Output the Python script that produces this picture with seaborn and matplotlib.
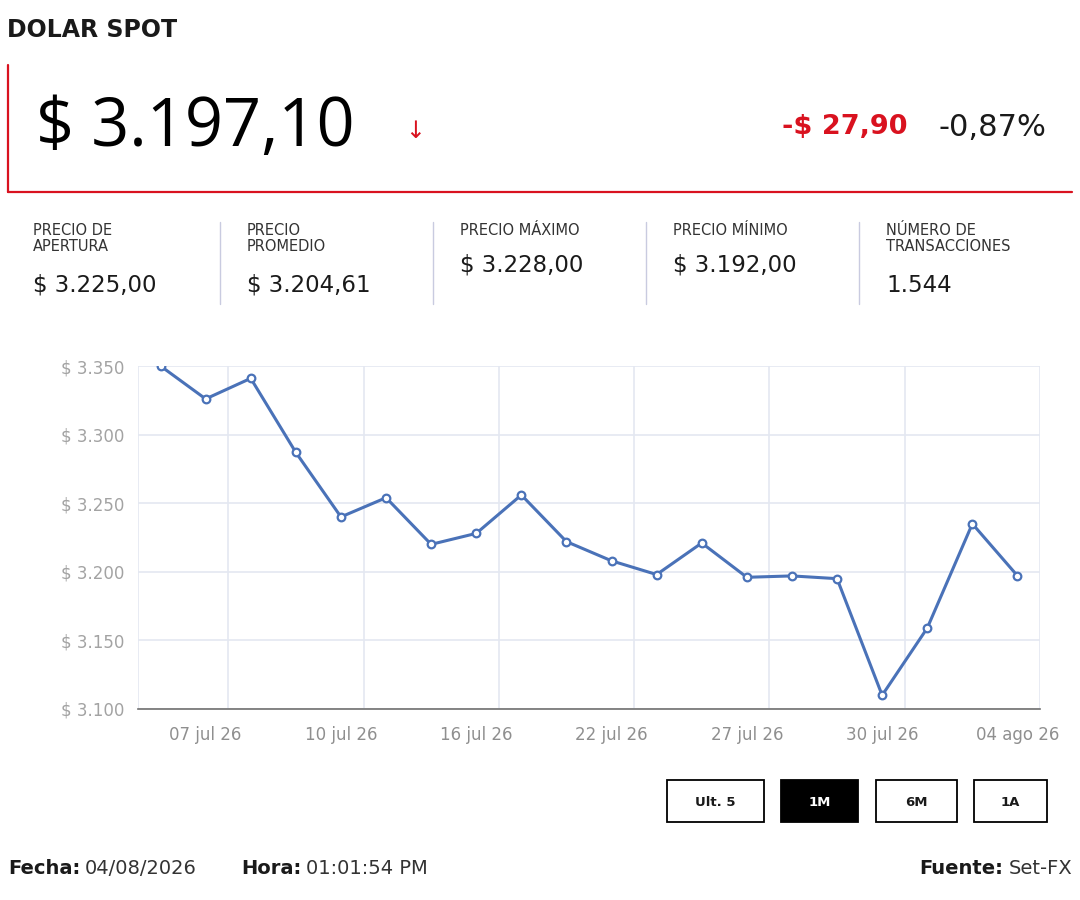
import numpy as np
import pandas as pd
import matplotlib
matplotlib.use("Agg")
import matplotlib.pyplot as plt
from matplotlib.patches import Rectangle
from matplotlib.lines import Line2D
import seaborn as sns

# ---------------------------------------------------------------
# Data
# ---------------------------------------------------------------
fechas = ["06 jul 26", "07 jul 26", "08 jul 26", "09 jul 26", "10 jul 26",
          "14 jul 26", "15 jul 26", "16 jul 26", "17 jul 26", "21 jul 26",
          "22 jul 26", "23 jul 26", "24 jul 26", "27 jul 26", "28 jul 26",
          "29 jul 26", "30 jul 26", "31 jul 26", "03 ago 26", "04 ago 26"]
precios = [3350, 3326, 3341, 3287, 3240, 3254, 3220, 3228, 3256, 3222,
           3208, 3198, 3221, 3196, 3197, 3195, 3110, 3159, 3235, 3197.10]

stat_labels = ["PRECIO DE\nAPERTURA", "PRECIO\nPROMEDIO", "PRECIO MÁXIMO",
               "PRECIO MÍNIMO", "NÚMERO DE\nTRANSACCIONES"]
stat_values = ["$ 3.225,00", "$ 3.204,61", "$ 3.228,00", "$ 3.192,00", "1.544"]

botones = ["Ult. 5", "1M", "6M", "1A"]
boton_activo = "1M"

precio_actual = "$ 3.197,10"
cambio = "-$ 27,90"
cambio_pct = "-0,87%"

df = pd.DataFrame({"idx": range(len(precios)), "precio": precios, "fecha": fechas})

# ---------------------------------------------------------------
# Figure
# ---------------------------------------------------------------
sns.set_theme(style="white")
plt.rcParams["font.family"] = ["DejaVu Sans"]

W, H = 1080, 900
fig = plt.figure(figsize=(W / 100, H / 100), dpi=100)
fig.patch.set_facecolor("white")

RED = "#d9121f"
BLUE = "#4a72b8"
DARK = "#1a1a1a"


def fx(px):
    return px / W


def fy(py):
    return 1 - py / H


# header
fig.text(fx(7), fy(30), "DOLAR SPOT", fontsize=17, fontweight="bold",
         color=DARK, va="center", ha="left")

# red frame
fig.add_artist(Line2D([fx(8), fx(8)], [fy(65), fy(192)], color=RED, lw=1.6))
fig.add_artist(Line2D([fx(8), fx(1072)], [fy(192), fy(192)], color=RED, lw=1.6))

fig.text(fx(36), fy(128), precio_actual, fontsize=48, color="black",
         va="center", ha="left", family=["Open Sans", "DejaVu Sans"],
         fontweight="medium")
fig.text(fx(415), fy(131), "↓", fontsize=17, color=RED, va="center",
         ha="center")
fig.text(fx(907), fy(127), cambio, fontsize=19.5, color=RED, fontweight="bold",
         va="center", ha="right")
fig.text(fx(1046), fy(127), cambio_pct, fontsize=22, color=DARK,
         va="center", ha="right")

# stats row
col_x = [33, 247, 460, 673, 886]
for i, (lab, val) in enumerate(zip(stat_labels, stat_values)):
    fig.text(fx(col_x[i]), fy(223), lab, fontsize=10.5, color="#333333",
             va="top", ha="left", linespacing=1.12)
    vy = 285 if "\n" in lab else 265
    fig.text(fx(col_x[i]), fy(vy), val, fontsize=16.5, color=DARK,
             va="center", ha="left")
for sx in [220, 433, 646, 859]:
    fig.add_artist(Line2D([fx(sx), fx(sx)], [fy(222), fy(304)],
                          color="#c9cbe0", lw=1))

# ---------------------------------------------------------------
# Chart
# ---------------------------------------------------------------
ax = fig.add_axes([fx(138), fy(709), fx(1040) - fx(138), fy(366) - fy(709)])
sns.lineplot(data=df, x="idx", y="precio", ax=ax, color=BLUE, linewidth=2.2,
             marker="o", markersize=5.5, markerfacecolor="white",
             markeredgecolor=BLUE, markeredgewidth=1.6)

ax.set_xlim(-0.5, len(precios) - 0.5)
ax.set_ylim(3100, 3350)
yt = np.arange(3100, 3351, 50)
ax.set_yticks(yt)
ax.set_yticklabels(["$ " + f"{v:,.0f}".replace(",", ".") for v in yt],
                   color="#a3a3a3", fontsize=12)
tick_idx = [i for i in range(len(fechas)) if i % 3 == 1]
ax.set_xticks(tick_idx)
ax.set_xticklabels([fechas[i] for i in tick_idx], color="#8f8f8f", fontsize=12)
ax.set_xticks([-0.5] + [i + 0.5 for i in tick_idx], minor=True)
ax.set_xlabel("")
ax.set_ylabel("")

ax.grid(True, axis="y", color="#e4e8f1", lw=1.2)
ax.grid(True, axis="x", which="minor", color="#e4e8f1", lw=1.2)
ax.grid(False, axis="x", which="major")
ax.set_axisbelow(True)
for s in ["top", "left", "right"]:
    ax.spines[s].set_visible(False)
ax.spines["bottom"].set_color("#707070")
ax.spines["bottom"].set_linewidth(1.2)
ax.tick_params(axis="x", which="major", direction="out", length=6, width=1,
               color="#707070", pad=6)
ax.tick_params(axis="x", which="minor", length=0)
ax.tick_params(axis="y", length=0, pad=10)

# ---------------------------------------------------------------
# Buttons
# ---------------------------------------------------------------
btn_pos = [(667, 764), (781, 858), (876, 957), (974, 1047)]
for name, (x0, x1) in zip(botones, btn_pos):
    activo = name == boton_activo
    fig.add_artist(Rectangle((fx(x0), fy(822)), fx(x1) - fx(x0), fy(780) - fy(822),
                             facecolor="black" if activo else "white",
                             edgecolor="black", lw=1.3))
    fig.text(fx((x0 + x1) / 2), fy(802), name, fontsize=9.5, fontweight="bold",
             color="white" if activo else DARK, ha="center", va="center")

# ---------------------------------------------------------------
# Footer
# ---------------------------------------------------------------
fig.canvas.draw()
renderer = fig.canvas.get_renderer()


def pair(x_px, y_px, bold, normal, ha="left"):
    b = fig.text(0, fy(y_px), bold, fontsize=14, fontweight="bold",
                 color=DARK, va="center")
    n = fig.text(0, fy(y_px), normal, fontsize=14, color="#333333", va="center")
    bw = b.get_window_extent(renderer).width
    nw = n.get_window_extent(renderer).width
    gap = 5
    if ha == "left":
        start = x_px
    else:
        start = x_px - bw - gap - nw
    b.set_x(fx(start))
    n.set_x(fx(start + bw + gap))


pair(8, 868, "Fecha:", "04/08/2026")
pair(241, 868, "Hora:", "01:01:54 PM")
pair(1072, 868, "Fuente:", "Set-FX", ha="right")

fig.savefig("out.png", dpi=100, facecolor="white")
